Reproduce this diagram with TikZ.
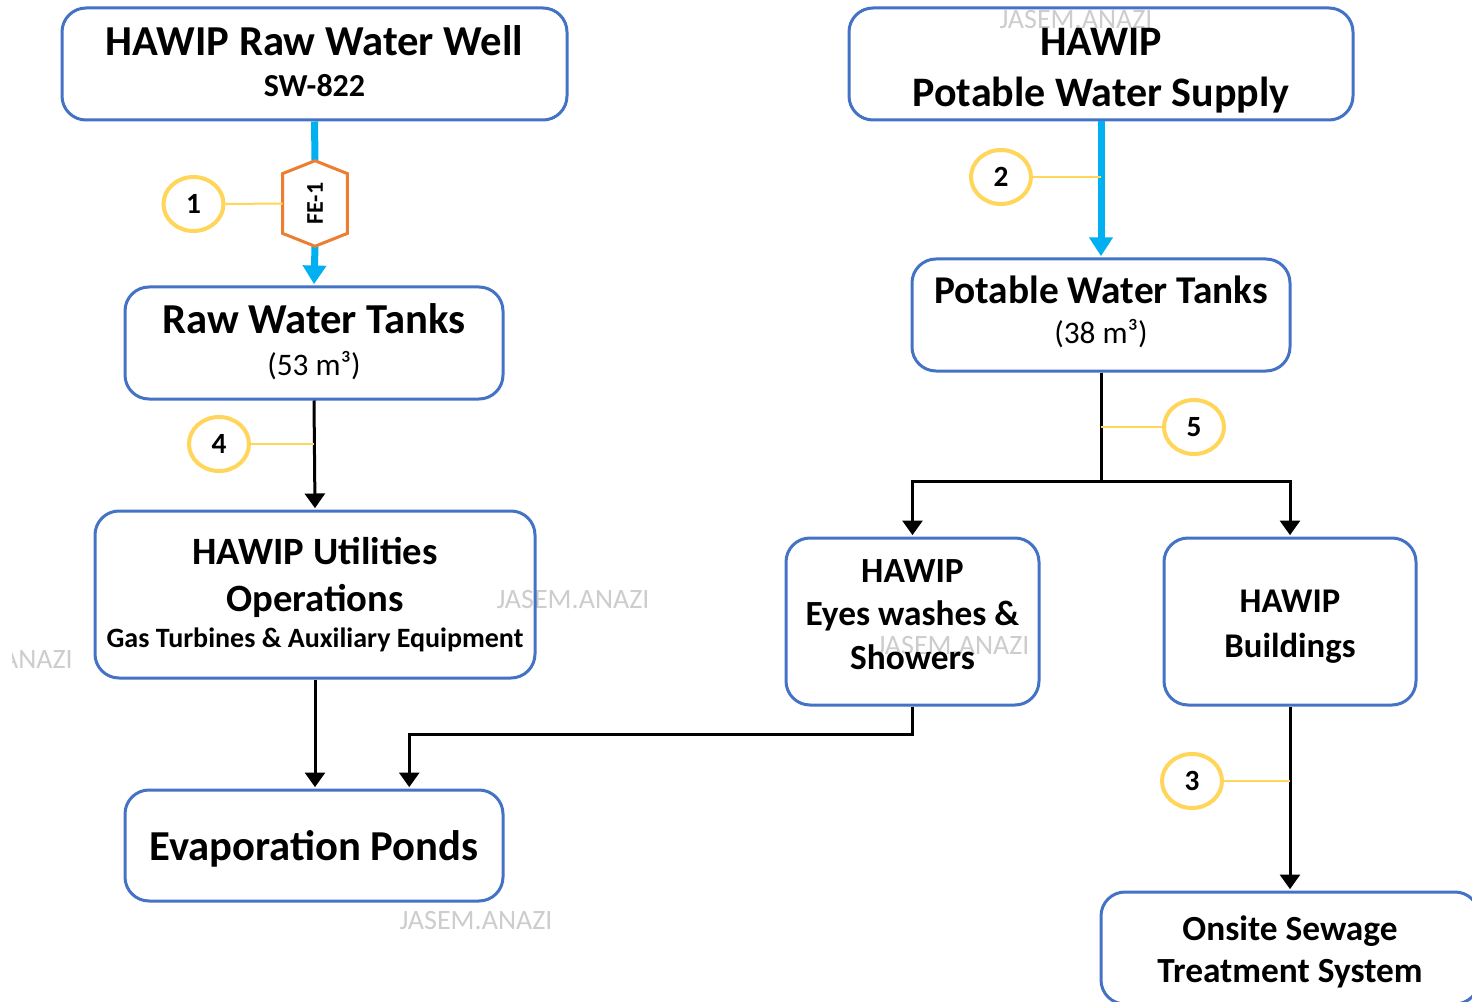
\documentclass[tikz,border=0pt]{standalone}
\usepackage{fontspec}
\setmainfont{Carlito}
\usetikzlibrary{arrows.meta,shapes.geometric,calc}
\definecolor{boxblue}{RGB}{68,114,196}
\definecolor{pipeblue}{RGB}{0,176,240}
\definecolor{feorange}{RGB}{237,125,49}
\definecolor{numyellow}{RGB}{255,214,90}
\definecolor{wmgray}{RGB}{205,205,205}
\begin{document}
\begin{tikzpicture}[x=0.75pt,y=-0.75pt,
  box/.style={draw=boxblue, line width=2.25pt, rounded corners=18pt, align=center, inner sep=0pt, text=black},
  num/.style={ellipse, draw=numyellow, line width=3pt, minimum width=45pt, minimum height=40.5pt, inner sep=0pt, font=\bfseries\fontsize{22}{22}\selectfont},
  tag/.style={draw=numyellow, line width=1.5pt},
  pipeline/.style={draw=pipeblue, line width=5.25pt},
  pipe/.style={pipeline, -{Triangle[width=17pt,length=14pt]}, shorten >=1pt},
  flowline/.style={draw=black, line width=2.25pt},
  flow/.style={flowline, -{Triangle[width=15pt,length=11pt]}, shorten >=1pt},
  wm/.style={text=wmgray, font=\fontsize{21}{21}\selectfont, inner sep=0pt}]
\useasboundingbox (0,0) rectangle (1472,1002);
\clip (0,0) rectangle (1472,1002);
\fill[white] (0,0) rectangle (1472,1002);
% watermarks
\node[wm] (wm1) at (1076,20) {JASEM.ANAZI};
\node[wm] (wm2) at (573,600) {JASEM.ANAZI};
\begin{scope}
  \clip (12,630) rectangle (90,690);
  \node[wm, anchor=east] (wm3) at (73,660) {JASEM.ANAZI};
\end{scope}
\node[wm] (wm4) at (953,646) {JASEM.ANAZI};
\node[wm] (wm5) at (476,921) {JASEM.ANAZI};
% boxes
\node[box, minimum width=378.75pt, minimum height=84pt, font=\bfseries\fontsize{32}{31}\selectfont] (well) at (314.5,64)
  {HAWIP Raw Water Well\\{\fontsize{24}{31}\selectfont SW-822}\\[-27pt]\mbox{}};
\node[box, minimum width=378pt, minimum height=84pt, font=\bfseries\fontsize{31.5}{38}\selectfont] (supply) at (1101,64)
  {\mbox{}\\[-7.5pt]HAWIP\\Potable Water Supply};
\node[box, minimum width=283.5pt, minimum height=84pt, font=\bfseries\fontsize{32}{32}\selectfont] (rawtank) at (314,343)
  {Raw Water Tanks\\{\mdseries\fontsize{23.5}{32}\selectfont (53 m³)}\\[-27pt]\mbox{}};
\node[box, minimum width=283.5pt, minimum height=84pt, font=\bfseries\fontsize{29.5}{30}\selectfont] (pottank) at (1101,315)
  {Potable Water Tanks\\{\mdseries\fontsize{23.5}{30}\selectfont (38 m³)}\\[-22pt]\mbox{}};
\node[box, minimum width=330pt, minimum height=125.25pt, font=\bfseries\fontsize{29}{35}\selectfont] (util) at (315,594.5)
  {HAWIP Utilities\\Operations\\[-8pt]{\fontsize{21}{27}\selectfont Gas Turbines \& Auxiliary Equipment}};
\node[box, minimum width=189.75pt, minimum height=125.25pt, font=\bfseries\fontsize{26.5}{32.5}\selectfont] (eyes) at (912.5,621.5)
  {HAWIP\\Eyes washes \&\\Showers\\[-22pt]\mbox{}};
\node[box, minimum width=189pt, minimum height=125.25pt, font=\bfseries\fontsize{26}{34}\selectfont] (bldg) at (1290,621.5)
  {\mbox{}\\[-9pt]HAWIP\\Buildings};
\node[box, minimum width=283.5pt, minimum height=83.25pt, font=\bfseries\fontsize{32}{31}\selectfont] (ponds) at (314,845.5)
  {\mbox{}\\[-3pt]Evaporation Ponds};
\node[box, minimum width=283.5pt, minimum height=84pt, font=\bfseries\fontsize{26.5}{31.5}\selectfont] (sewage) at (1290,948)
  {\mbox{}\\[-6.5pt]Onsite Sewage\\Treatment System};
% number circles
\node[num] (n1) at (193.5,204) {1};
\node[num] (n2) at (1001,177) {2};
\node[num] (n3) at (1192,781) {3};
\node[num] (n4) at (219,444) {4};
\node[num] (n5) at (1194,427) {5};
% flow element
\node[minimum width=48pt, minimum height=63.75pt, inner sep=0pt] (fe) at (315,203.5) {};
% blue pipes
\draw[pipeline] (well.south) -- (fe.north);
\draw[pipe] (fe.south) -- (rawtank.north);
\draw[pipe] (supply.south) -- (pottank.north);
% hexagon
\filldraw[fill=white, draw=feorange, line width=2.25pt, line join=miter]
  (fe.north) -- ($(fe.north east)!0.15!(fe.south east)$) -- ($(fe.north east)!0.85!(fe.south east)$)
  -- (fe.south) -- ($(fe.north west)!0.85!(fe.south west)$) -- ($(fe.north west)!0.15!(fe.south west)$) -- cycle;
\node[rotate=90, font=\bfseries\fontsize{18}{18}\selectfont, inner sep=0pt] (fetext) at (fe.center) {FE-1};
% black flows
\draw[flow] (rawtank.south) -- (util.north);
\coordinate (splity) at (0,481);
\coordinate (split) at (pottank.south |- splity);
\draw[flowline] (pottank.south) -- (split);
\draw[flow] (split) -| (eyes.north);
\draw[flow] (split) -| (bldg.north);
\draw[flow] (util.south) -- (util.south |- ponds.north);
\draw[flow] (eyes.south) -- ++(0,28) -| ($(ponds.north west)!0.75!(ponds.north east)$);
\draw[flow] (bldg.south) -- (sewage.north);
% tag lines
\draw[tag] (n1.east) -- (fe.west);
\draw[tag] (n2.east) -- (n2.east -| supply.south);
\draw[tag] (n3.east) -- (n3.east -| bldg.south);
\draw[tag] (n4.east) -- (n4.east -| rawtank.south);
\draw[tag] (n5.west) -- (n5.west -| split);
\end{tikzpicture}
\end{document}
